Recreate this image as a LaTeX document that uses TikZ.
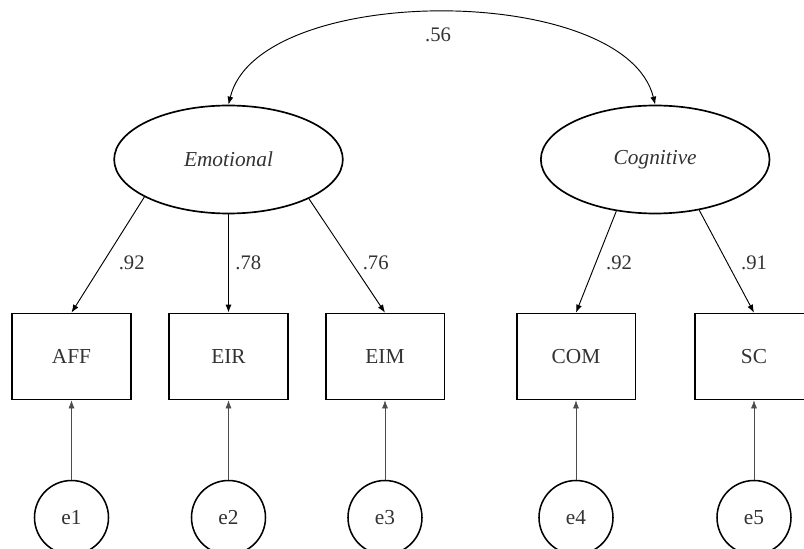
\documentclass[tikz,border=0pt]{standalone}
\usepackage{fontspec}
\setmainfont{Liberation Serif}
\usetikzlibrary{shapes.geometric,arrows.meta}
\definecolor{txt}{HTML}{333333}
\begin{document}
\begin{tikzpicture}[x=0.75pt,y=-0.75pt,
  latent/.style={ellipse,draw,line width=1.25pt,minimum width=171.5pt,minimum height=81pt,inner sep=0pt,text=txt,font=\fontsize{16}{18}\selectfont\itshape},
  observed/.style={rectangle,draw,line width=1.25pt,minimum width=89pt,minimum height=64.5pt,inner sep=0pt,text=txt,font=\fontsize{16}{18}\selectfont},
  errorc/.style={circle,draw,line width=1.15pt,minimum size=55.5pt,inner sep=0pt,text=txt,font=\fontsize{16}{18}\selectfont},
  load/.style={-{Latex[length=6pt,width=4.5pt]},line width=0.7pt},
  errarrow/.style={-{Latex[length=6pt,width=4.5pt]},line width=0.5pt,draw=black!70},
  lbl/.style={text=txt,font=\fontsize{15.5}{18}\selectfont,inner sep=0pt}]
\useasboundingbox (0,0) rectangle (804,549);
% latent
\node[latent] (emo) at (228.5,159.5) {Emotional};
\node[latent] (cog) at (655.2,159.5) {Cognitive};
% observed
\node[observed] (aff) at (71.5,356.5) {AFF};
\node[observed] (eir) at (228.5,356.5) {EIR};
\node[observed] (eim) at (385,356.5) {EIM};
\node[observed] (com) at (576,356.5) {COM};
\node[observed] (sc) at (754,356.5) {SC};
% errors
\node[errorc] (e1) at (71.5,517.5) {e1};
\node[errorc] (e2) at (228.5,517.5) {e2};
\node[errorc] (e3) at (385,517.5) {e3};
\node[errorc] (e4) at (576,517.5) {e4};
\node[errorc] (e5) at (754,517.5) {e5};
% covariance
\draw[{Latex[length=6pt,width=4.5pt]}-{Latex[length=6pt,width=4.5pt]},line width=0.7pt]
  (emo.north) .. controls (258,-18) and (625,-18) .. (cog.north);
\node[lbl] (r) at (438,35) {.56};
% loadings
\draw[load] (emo.204.4) -- (aff.north);
\draw[load] (emo.south) -- (eir.north);
\draw[load] (emo.334.2) -- (eim.north);
\draw[load] (cog.233.1) -- (com.north);
\draw[load] (cog.311.1) -- (sc.north);
\node[lbl] (l1) at (131.7,263) {.92};
\node[lbl] (l2) at (248.3,263) {.78};
\node[lbl] (l3) at (375.7,263) {.76};
\node[lbl] (l4) at (619,263) {.92};
\node[lbl] (l5) at (754,263) {.91};
% errors
\draw[errarrow] (e1.north) -- (aff.south);
\draw[errarrow] (e2.north) -- (eir.south);
\draw[errarrow] (e3.north) -- (eim.south);
\draw[errarrow] (e4.north) -- (com.south);
\draw[errarrow] (e5.north) -- (sc.south);
\end{tikzpicture}
\end{document}
